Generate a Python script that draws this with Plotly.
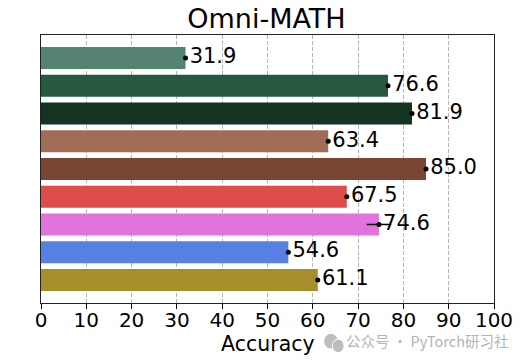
import plotly.graph_objects as go

categories = ["A", "B", "C", "D", "E", "F", "G", "H", "I"]
values = [31.9, 76.6, 81.9, 63.4, 85.0, 67.5, 74.6, 54.6, 61.1]
errors = [0.3, 0.3, 0.3, 0.3, 0.3, 0.3, 2.7, 0.3, 0.3]
colors = ["#548471", "#265840", "#143321", "#9f6c58", "#784632",
          "#de4c4c", "#e174dc", "#5880e2", "#a68e2c"]
labels = [f"{v:.1f}" for v in values]
xticks = list(range(0, 101, 10))
FONT = "DejaVu Sans"

fig = go.Figure()
fig.add_trace(go.Bar(
    y=categories, x=values, orientation="h", width=0.8,
    marker=dict(color=colors, line=dict(width=0)),
    showlegend=False, hoverinfo="skip",
))
fig.add_trace(go.Scatter(
    y=categories, x=values, mode="markers+text",
    marker=dict(color="black", size=5),
    error_x=dict(type="data", array=errors, color="black", thickness=1.5, width=0),
    text=labels, textposition="middle right",
    textfont=dict(family=FONT, size=21, color="black"),
    cliponaxis=False, showlegend=False, hoverinfo="skip",
))
fig.update_layout(
    width=526, height=362,
    margin=dict(l=41, r=32, t=35, b=59),
    paper_bgcolor="white", plot_bgcolor="white",
    font=dict(family=FONT, color="black"),
    title=dict(text="Omni-MATH", x=0.5066, xanchor="center", y=0.948, yanchor="middle",
               font=dict(family=FONT, size=27, color="black")),
    xaxis=dict(
        range=[0, 100], tickvals=xticks, ticks="outside", ticklen=5, tickwidth=1.2,
        tickcolor="black", tickfont=dict(size=20, family=FONT), ticklabelstandoff=-6,
        showgrid=True, gridcolor="#b5b5b5", griddash="4px,2px", gridwidth=1,
        showline=True, linecolor="#222222", linewidth=1.3, mirror=True, zeroline=False,
        automargin=False,
    ),
    yaxis=dict(
        categoryorder="array", categoryarray=categories[::-1],
        range=[-0.83, 8.83], showticklabels=False, ticks="",
        showgrid=False, showline=True, linecolor="#222222", linewidth=1.3, mirror=True,
        zeroline=False, automargin=False,
    ),
    annotations=[
        dict(text="Accuracy", xref="paper", yref="paper", x=0.5, y=-0.153,
             xanchor="center", yanchor="middle", showarrow=False,
             font=dict(family=FONT, size=20.5, color="black")),
        dict(text="公众号 · PyTorch研习社", xref="paper", yref="paper",
             x=1.035, y=-0.14, xanchor="right", yanchor="middle", showarrow=False,
             font=dict(family="Noto Sans CJK SC", size=14.5, color="#b4b4b4")),
    ],
    shapes=[
        dict(type="circle", xref="paper", yref="paper", x0=0.625, x1=0.655, y0=-0.17, y1=-0.115,
             fillcolor="#bdbdbd", line=dict(width=0)),
        dict(type="circle", xref="paper", yref="paper", x0=0.643, x1=0.669, y0=-0.185, y1=-0.135,
             fillcolor="#bdbdbd", line=dict(color="white", width=1)),
    ],
)
fig.write_html("out.html", config=dict(displayModeBar=False),
               post_script="document.body.style.margin='0';")
